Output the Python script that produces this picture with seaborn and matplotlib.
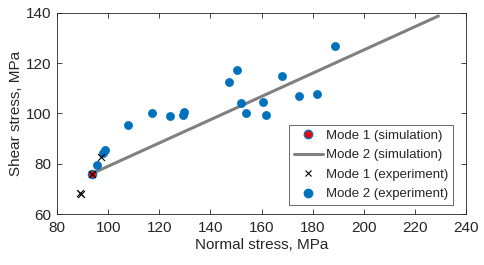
import matplotlib
matplotlib.use("Agg")
import matplotlib.pyplot as plt
import seaborn as sns
import pandas as pd
from matplotlib.lines import Line2D

sns.set_style("white")
plt.rcParams['font.family'] = ['Liberation Sans', 'DejaVu Sans']

# Mode 1 (simulation)
m1_sim_x = [93.5]
m1_sim_y = [76.0]
# Mode 2 (simulation) line
m2_sim_x = [93.5, 229.2]
m2_sim_y = [76.0, 138.8]
# Mode 1 (experiment)
m1_exp_x = [88.9, 89.4, 97.1, 93.5]
m1_exp_y = [68.2, 67.8, 82.8, 76.0]
# Mode 2 (experiment)
m2_exp_x = [95.5, 98.1, 98.9, 107.6, 117.2, 124.1, 129.2, 129.8, 147.4, 150.3,
            151.9, 153.9, 160.7, 161.8, 167.9, 174.5, 181.7, 188.6]
m2_exp_y = [79.4, 84.1, 85.4, 95.4, 100.0, 99.2, 99.6, 100.4, 112.5, 117.2,
            104.1, 100.0, 104.4, 99.5, 114.8, 106.9, 107.7, 127.0]

blue = '#0072BD'
grey = '#808080'

fig = plt.figure(figsize=(4.84, 2.65), dpi=100)
ax = fig.add_axes([57/484, 1-214/265, 409/484, 201/265])

sns.scatterplot(x=m2_exp_x, y=m2_exp_y, ax=ax, color=blue, s=34, edgecolor=blue, linewidth=0.5, zorder=3)
sns.lineplot(x=m2_sim_x, y=m2_sim_y, ax=ax, color=grey, linewidth=2.2, zorder=2)
sns.scatterplot(x=m1_sim_x, y=m1_sim_y, ax=ax, color='red', s=34, edgecolor=blue, linewidth=1.0, zorder=4)
sns.scatterplot(x=m1_exp_x, y=m1_exp_y, ax=ax, color='black', marker='x', s=25, linewidth=0.8, zorder=5)

ax.set_xlim(80, 240)
ax.set_ylim(60, 140)
ax.set_xticks(range(80, 241, 20))
ax.set_yticks(range(60, 141, 20))
ax.set_xlabel('Normal stress, MPa', fontsize=11, labelpad=2)
ax.set_ylabel('Shear stress, MPa', fontsize=11, labelpad=2)
ax.tick_params(direction='in', length=3.5, width=0.6, color='#262626', labelsize=11,
               top=True, right=True, bottom=True, left=True)
ax.tick_params(axis='x', pad=5)
ax.tick_params(axis='y', pad=4)
for sp in ax.spines.values():
    sp.set_visible(True)
    sp.set_color('#262626')
    sp.set_linewidth(0.6)

handles = [
    Line2D([], [], marker='o', linestyle='none', markerfacecolor='red', markeredgecolor=blue, markersize=6),
    Line2D([], [], color=grey, linewidth=2.2),
    Line2D([], [], marker='x', linestyle='none', color='black', markersize=5, markeredgewidth=0.8),
    Line2D([], [], marker='o', linestyle='none', color=blue, markersize=6),
]
labels = ['Mode 1 (simulation)', 'Mode 2 (simulation)', 'Mode 1 (experiment)', 'Mode 2 (experiment)']
leg = ax.legend(handles, labels, loc='lower right', fontsize=9.5, frameon=True, fancybox=False,
                edgecolor='#262626', handlelength=2.2, handletextpad=0.25, borderpad=0.35,
                labelspacing=0.55, borderaxespad=0.0, bbox_to_anchor=(0.968, 0.045))
leg.get_frame().set_linewidth(0.6)

fig.savefig('out.png', dpi=100)
